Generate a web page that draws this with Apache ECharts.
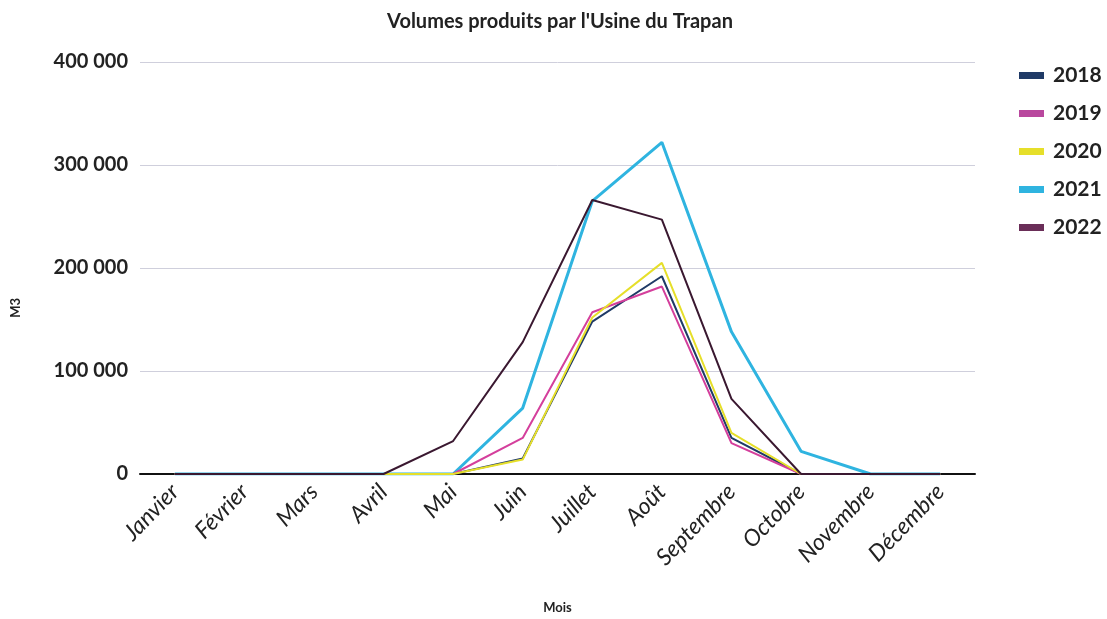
<!DOCTYPE html>
<html>
<head>
<meta charset="utf-8">
<script src="https://cdn.jsdelivr.net/npm/echarts@6/dist/echarts.min.js"></script>
<style>html,body{margin:0;padding:0;background:#fff}#c{width:1107px;height:619px}</style>
</head>
<body>
<div id="c"></div>
<script>
const months = ['Janvier','Février','Mars','Avril','Mai','Juin','Juillet','Août','Septembre','Octobre','Novembre','Décembre'];
const years = ['2018','2019','2020','2021','2022'];
const v2018 = [0,0,0,0,0,15000,148000,192000,35000,0,0,0];
const v2019 = [0,0,0,0,0,35000,157000,182000,30000,0,0,0];
const v2020 = [0,0,0,0,0,14000,152000,205000,40000,0,0,0];
const v2021 = [0,0,0,0,0,64000,265000,322000,138000,22000,0,0];
const v2022 = [0,0,0,0,32000,128000,266000,247000,73000,0,0,0];
const yTicks = [0,100000,200000,300000,400000];
const colors = ['#1f3a66','#d43f9c','#e6df2a','#2fb4e0','#3a1830'];
const legendColors = ['#1f3a66','#b9489e','#e6df2a','#2fb4e0','#6a2e58'];
const seriesData = [v2018,v2019,v2020,v2021,v2022];

const fmt = v => String(v).replace(/\B(?=(\d{3})+(?!\d))/g, ' ');
const chart = echarts.init(document.getElementById('c'));
chart.setOption({
  animation: false,
  textStyle: {fontFamily: 'Lato'},
  title: {
    text: "Volumes produits par l'Usine du Trapan",
    left: 555, top: 7, textAlign: 'center',
    textStyle: {fontSize: 20, fontWeight: 'bold', color: '#222', fontFamily: 'Lato'}
  },
  legend: {
    orient: 'vertical', left: 1014, top: 60, itemGap: 17,
    itemWidth: 25, itemHeight: 7, icon: 'rect',
    textStyle: {fontSize: 21, fontWeight: 'bold', color: '#222', fontFamily: 'Lato', padding: [0,0,0,4]},
    data: years.map((y, i) => ({name: y, itemStyle: {color: legendColors[i]}}))
  },
  graphic: [{
    type: 'text', left: 9, top: 298, rotation: Math.PI / 2,
    style: {text: 'M3', fontSize: 13, fontWeight: 'bold', fill: '#222', fontFamily: 'Lato'}
  }],
  grid: {left: 140, right: 132, top: 62, bottom: 140, containLabel: false},
  xAxis: {
    type: 'category', data: months, boundaryGap: true,
    name: 'Mois', nameLocation: 'middle', nameGap: 127,
    nameTextStyle: {fontSize: 13, fontWeight: 'bold', color: '#222'},
    axisLine: {lineStyle: {color: '#111', width: 2}},
    axisTick: {show: false},
    axisLabel: {rotate: 46, fontSize: 23, color: '#222', margin: 14, interval: 0, fontStyle: 'italic'}
  },
  yAxis: {
    type: 'value', min: 0, max: 400000, interval: 100000,
    axisLine: {show: false}, axisTick: {show: false},
    axisLabel: {fontSize: 20, fontWeight: 'bold', color: '#222', margin: 12,
      formatter: v => yTicks.includes(v) ? fmt(v) : ''},
    splitLine: {lineStyle: {color: '#cfcfdc', width: 1}}
  },
  series: years.map((y, i) => ({
    name: y, type: 'line', data: seriesData[i], symbol: 'none',
    lineStyle: {color: colors[i], width: i === 3 ? 3 : 2},
    itemStyle: {color: legendColors[i]},
    z: i === 3 ? 1 : 2 + i
  }))
});
</script>
</body>
</html>
